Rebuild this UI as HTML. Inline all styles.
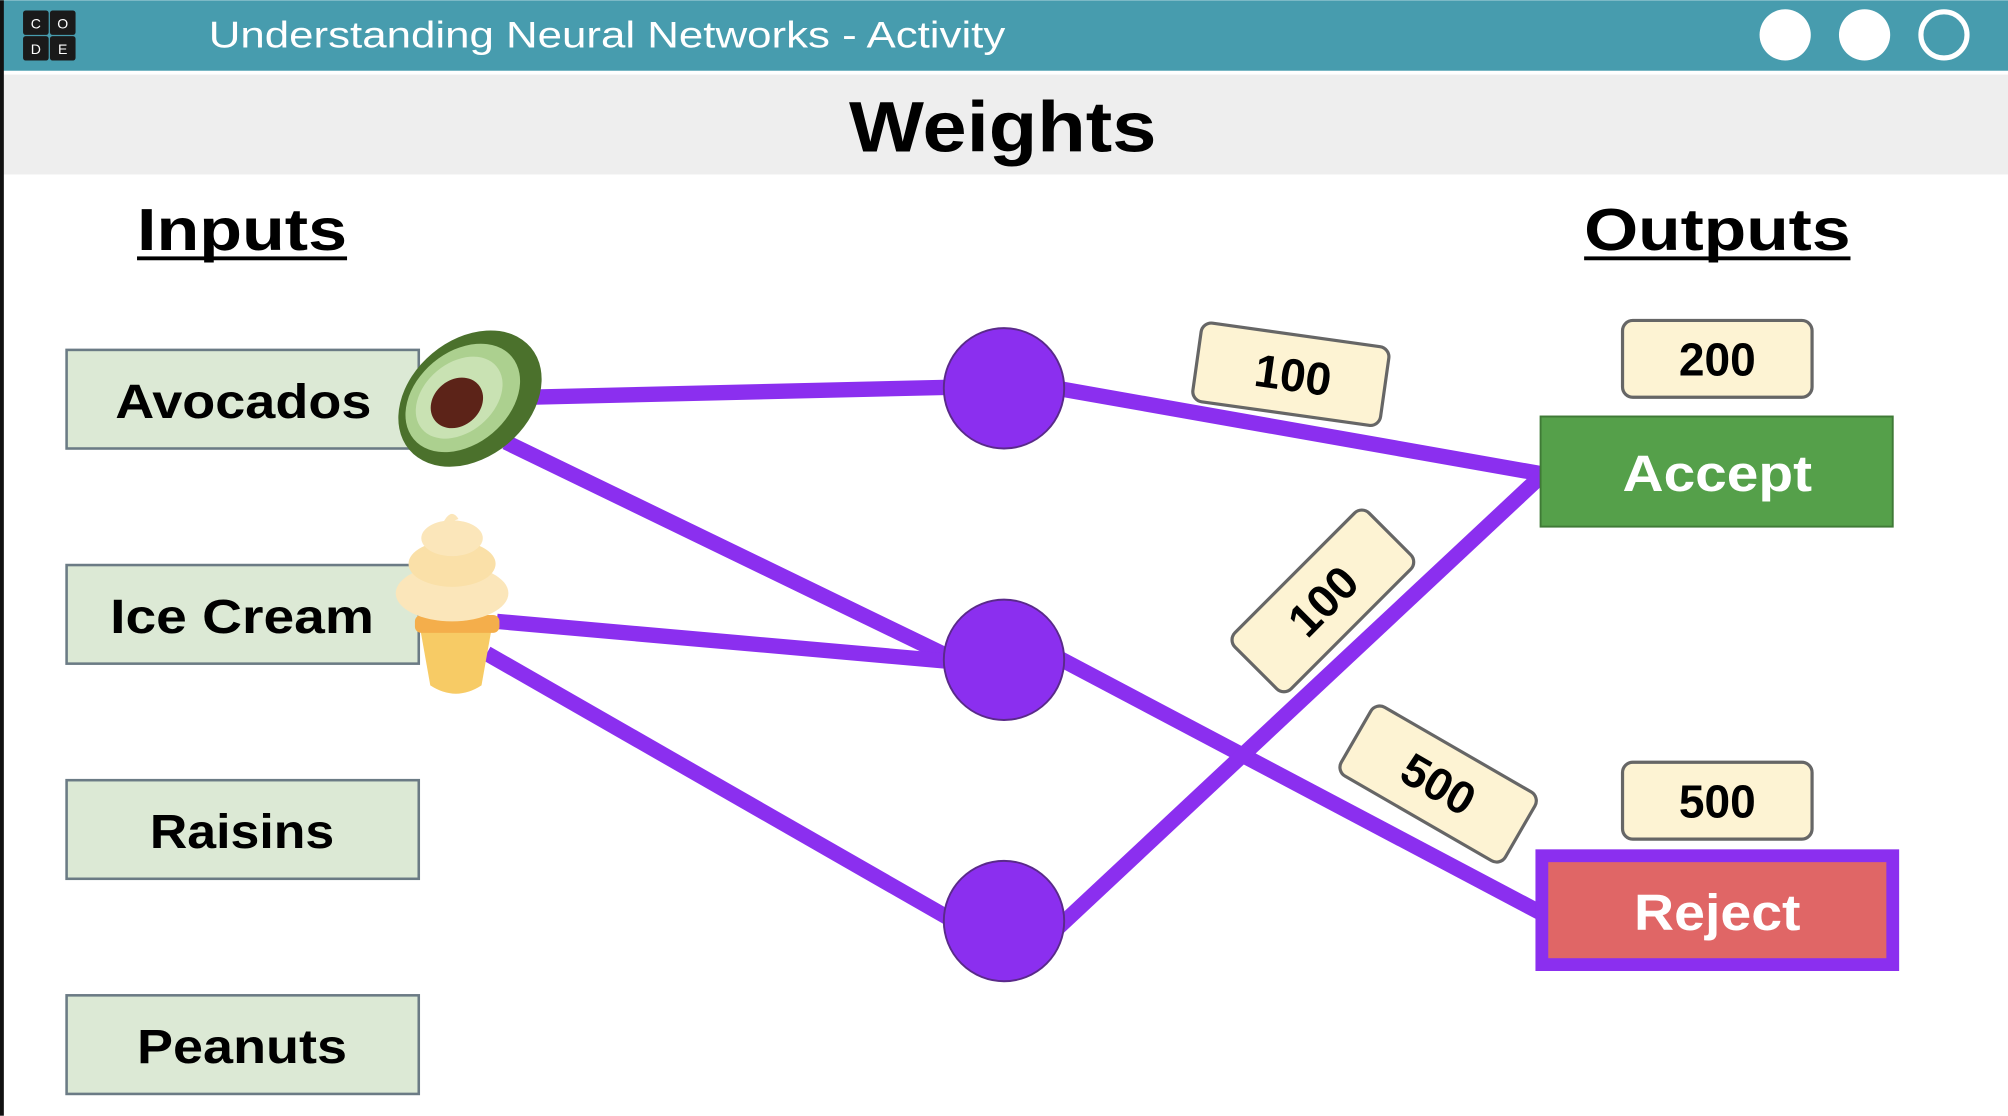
<!DOCTYPE html>
<html><head><meta charset="utf-8"><style>html,body{margin:0;padding:0;background:#fff}svg{display:block}</style></head><body>
<svg width="2008" height="1116" viewBox="0 0 1568 871" xmlns="http://www.w3.org/2000/svg" font-family="Liberation Sans, sans-serif">
<rect width="1568" height="871" fill="#fff"/>
<rect x="0" y="0" width="1568" height="55" fill="#479CAE"/>
<rect x="0" y="58" width="1568" height="78" fill="#EEEEEE"/>
<rect x="0" y="0" width="3" height="871" fill="#111"/>
<g fill="#1a1a1a"><rect x="18" y="8" width="20" height="19" rx="2"/><rect x="39" y="8" width="20" height="19" rx="2"/><rect x="18" y="28" width="20" height="19" rx="2"/><rect x="39" y="28" width="20" height="19" rx="2"/></g>
<g fill="#fff" font-size="11" text-anchor="middle"><text x="28" y="22">C</text><text x="49" y="22">O</text><text x="28" y="42">D</text><text x="49" y="42">E</text></g>
<text x="163" y="37" fill="#fff" font-size="29" textLength="622" lengthAdjust="spacingAndGlyphs">Understanding Neural Networks - Activity</text>
<circle cx="1394" cy="27" r="20" fill="#fff"/><circle cx="1456" cy="27" r="20" fill="#fff"/><circle cx="1518" cy="27" r="18" fill="none" stroke="#fff" stroke-width="4"/>
<text x="663" y="118" font-size="56" font-weight="bold" textLength="240" lengthAdjust="spacingAndGlyphs">Weights</text>
<text x="107" y="195" font-size="46" font-weight="bold" textLength="164" lengthAdjust="spacingAndGlyphs">Inputs</text>
<rect x="107" y="200" width="164" height="3" fill="#000"/>
<text x="1237" y="195" font-size="46" font-weight="bold" textLength="208" lengthAdjust="spacingAndGlyphs">Outputs</text>
<rect x="1237" y="200" width="208" height="3" fill="#000"/>
<g fill="#DCE9D5" stroke="#6b7b85" stroke-width="2">
<rect x="52" y="273" width="275" height="77"/><rect x="52" y="441" width="275" height="77"/><rect x="52" y="609" width="275" height="77"/><rect x="52" y="777" width="275" height="77"/></g>
<g font-size="38" font-weight="bold" lengthAdjust="spacingAndGlyphs">
<text x="90" y="326" textLength="200" lengthAdjust="spacingAndGlyphs">Avocados</text>
<text x="86" y="494" textLength="206" lengthAdjust="spacingAndGlyphs">Ice Cream</text>
<text x="117" y="662" textLength="144" lengthAdjust="spacingAndGlyphs">Raisins</text>
<text x="107" y="830" textLength="164" lengthAdjust="spacingAndGlyphs">Peanuts</text></g>
<g stroke="#8B2FEF" stroke-width="12" fill="none">
<line x1="410" y1="310" x2="750" y2="302"/><line x1="395" y1="345" x2="750" y2="517"/>
<line x1="388" y1="485" x2="750" y2="517"/><line x1="380" y1="510" x2="750" y2="722"/>
<line x1="820" y1="302" x2="1205" y2="370"/><line x1="820" y1="510" x2="1202" y2="712"/><line x1="820" y1="730" x2="1205" y2="370"/></g>
<g fill="#8B2FEF" stroke="#5a2a8a" stroke-width="1.5"><circle cx="784" cy="303" r="47"/><circle cx="784" cy="515" r="47"/><circle cx="784" cy="719" r="47"/></g>
<g transform="translate(367,311) rotate(-40)"><ellipse cx="0" cy="0" rx="62" ry="46" fill="#4B712C"/><ellipse cx="-4" cy="-4" rx="50" ry="36" fill="#ACD08F"/><ellipse cx="-6" cy="-6" rx="38" ry="27" fill="#C9E2B3"/><ellipse cx="-10" cy="-4" rx="22" ry="18" fill="#5C2318"/></g>
<path d="M328 490 L384 490 L376 535 Q356 548 336 535 Z" fill="#F7CB65"/>
<rect x="324" y="480" width="66" height="14" rx="5" fill="#F4AE4B"/>
<ellipse cx="353" cy="463" rx="44" ry="22" fill="#FBE6BA"/><ellipse cx="353" cy="440" rx="34" ry="18" fill="#FAE0A8"/><ellipse cx="353" cy="420" rx="24" ry="14" fill="#FBE6BA"/><path d="M345 410 Q352 395 358 405" fill="#FBE6BA"/>
<rect x="1203" y="325" width="275" height="86" fill="#55A04A" stroke="#3f7a36" stroke-width="1.5"/>
<text x="1267" y="383" fill="#fff" font-size="40" font-weight="bold" textLength="148" lengthAdjust="spacingAndGlyphs">Accept</text>
<rect x="1204" y="668" width="274" height="85" fill="#E06666" stroke="#8B2FEF" stroke-width="10"/>
<text x="1276" y="726" fill="#fff" font-size="40" font-weight="bold" textLength="130" lengthAdjust="spacingAndGlyphs">Reject</text>
<g fill="#FDF3D3" stroke="#666" stroke-width="2.5">
<rect x="1267" y="250" width="148" height="60" rx="8"/><rect x="1267" y="595" width="148" height="60" rx="8"/>
<rect x="-74" y="-31" width="148" height="62" rx="8" transform="translate(1008,292) rotate(8)"/>
<rect x="-74" y="-31" width="148" height="62" rx="8" transform="translate(1033,469) rotate(-45)"/>
<rect x="-74" y="-31" width="148" height="62" rx="8" transform="translate(1123,612) rotate(30)"/></g>
<g font-size="36" font-weight="bold" text-anchor="middle">
<text x="1341" y="293">200</text><text x="1341" y="638">500</text>
<text transform="translate(1008,305) rotate(8)">100</text>
<text transform="translate(1042,478) rotate(-45)">100</text>
<text transform="translate(1117,623) rotate(30)">500</text></g>
</svg>
</body></html>
